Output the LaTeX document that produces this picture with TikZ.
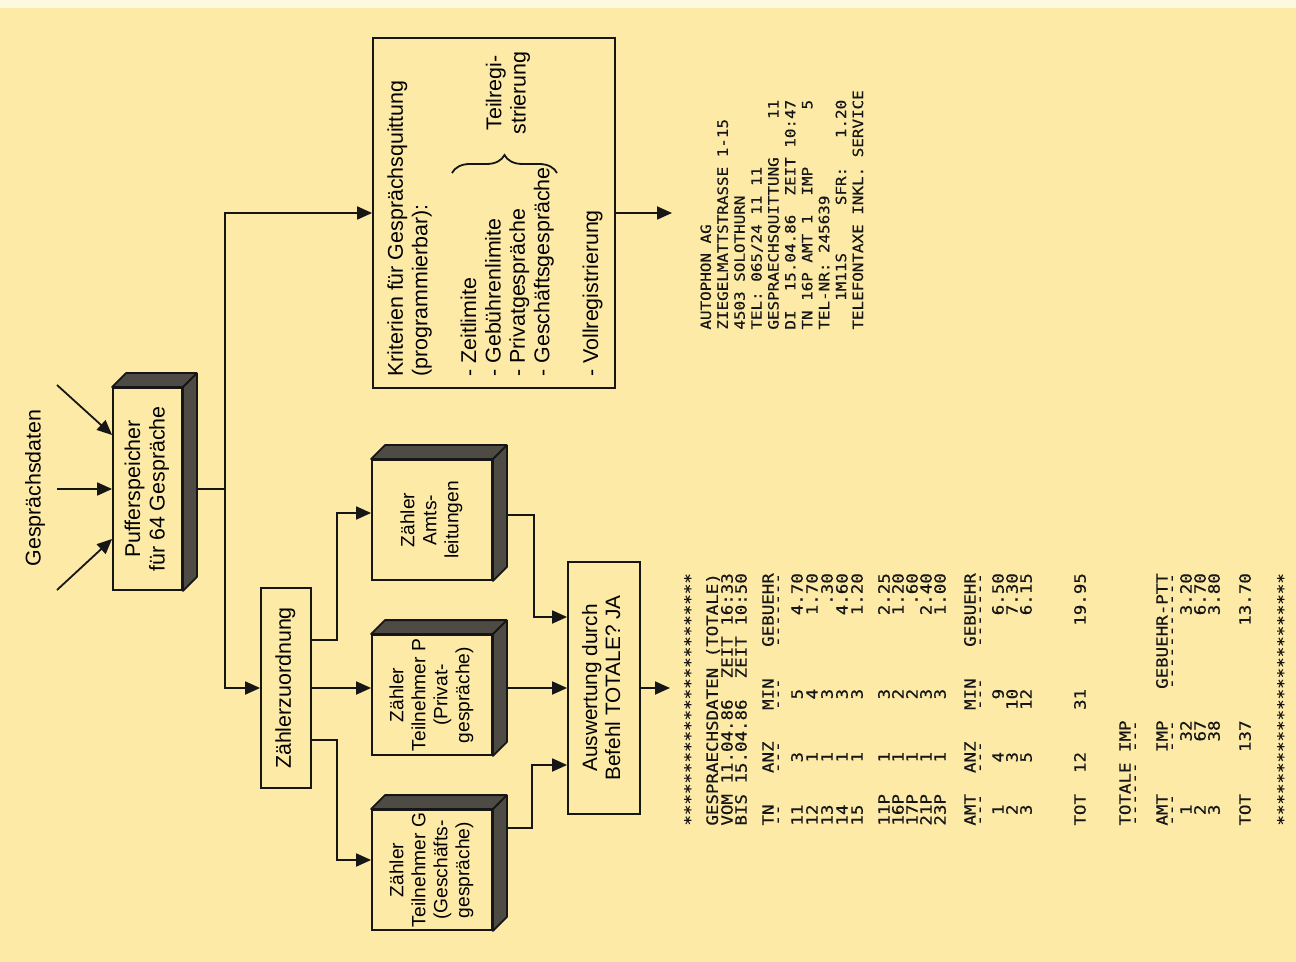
\documentclass[tikz,border=0pt]{standalone}
\usepackage{fontspec}
\setmainfont{Liberation Sans}
\newfontfamily\prtfont[FakeStretch=1.12,FakeBold=0.4]{DejaVu Sans Mono}
\usepackage{graphicx}
\usetikzlibrary{arrows.meta,positioning,calc,decorations.pathreplacing}

\definecolor{paper}{RGB}{252,234,166}
\definecolor{ink}{RGB}{22,22,22}
\definecolor{shade}{RGB}{78,74,68}

\newcommand{\vt}[1]{\rotatebox{90}{\begin{tabular}{@{}c@{}}#1\end{tabular}}}
\newcommand{\dd}[1]{\foreach \k in {1,...,#1}{-\kern0pt}}
\newcommand{\solid}[1]{%
  \filldraw[depth] (#1.north west) -- ++(7pt,7pt)
    -- ([shift={(7pt,7pt)}]#1.north east) -- ([shift={(7pt,7pt)}]#1.south east)
    -- (#1.south east) -- (#1.north east) -- cycle;
  \draw[depth] (#1.north east) -- ++(7pt,7pt);}

\begin{document}
\begin{tikzpicture}[x=0.5pt, y=-0.5pt,
  box/.style={draw=ink, line width=0.9pt, inner sep=0pt, font=\fontsize{10.7}{12.3}\selectfont},
  cbox/.style={box, minimum width=60pt, minimum height=60pt, font=\fontsize{9.6}{11}\selectfont},
  depth/.style={fill=shade, draw=ink, line width=0.9pt, line join=round},
  arr/.style={draw=ink, -{Triangle[length=7.5pt,width=6.5pt]}, line width=0.9pt},
  line/.style={draw=ink, line width=0.9pt},
  prt/.style={rotate=90, inner sep=0pt, text=ink, font=\prtfont\fontsize{7.8}{10}\selectfont\frenchspacing}]

  % paper
  \fill[paper] (0,0) rectangle (1296,962);
  \fill[paper!35!white] (0,0) rectangle (1296,8);
  \useasboundingbox (0,0) rectangle (1296,962);

  % Define nodes
  \node[rotate=90, font=\fontsize{10.7}{12.3}\selectfont] (daten) at (35,488) {Gesprächsdaten};
  \node[box, minimum width=34.5pt, minimum height=101pt] (puffer) at (147.5,489)
    {\vt{Pufferspeicher\\für 64 Gespräche}};
  \node[box, minimum width=25pt, minimum height=100pt] (zuord) at (286,688) {\vt{Zählerzuordnung}};
  \node[cbox] (amts) at (432,520) {\vt{Zähler\\Amts-\\leitungen}};
  \node[cbox] (privat) at (432,695) {\vt{Zähler\\Teilnehmer P\\(Privat-\\gespräche)}};
  \node[cbox] (gesch) at (432,870) {\vt{Zähler\\Teilnehmer G\\(Geschäfts-\\gespräche)}};
  \node[box, minimum width=36pt, minimum height=126pt, font=\fontsize{10.4}{11.6}\selectfont] (auswert) at (604,688)
    {\vt{Auswertung durch\\Befehl TOTALE? JA}};
  \node[box, minimum width=121pt, minimum height=175pt] (kriterien) at (494,213) {};

  \solid{puffer}
  \solid{amts}
  \solid{privat}
  \solid{gesch}

  % Kriterien
  \node[rotate=90, anchor=north west, align=left, inner sep=0pt, font=\fontsize{10.7}{12.2}\selectfont]
    (kritxt) at (387,377) {Kriterien für Gesprächsquittung\\(programmierbar):\\[12.2pt]
    - Zeitlimite\\- Gebührenlimite\\- Privatgespräche\\- Geschäftsgespräche\\[12.2pt]
    - Vollregistrierung};
  \node[rotate=90, align=center, inner sep=0pt, font=\fontsize{10.7}{12.2}\selectfont]
    (teilreg) at (508,93) {Teilregi-\\strierung};
  \coordinate (brA) at (452,173);
  \coordinate (brB) at (557,173);
  \draw[line, decorate, decoration={brace, amplitude=9pt}] (brA) -- (brB);

  % Draw arrows
  \coordinate (g1) at (57,385);
  \coordinate (g2) at (57,489);
  \coordinate (g3) at (57,590);
  \draw[arr] (g1) -- ([yshift=27pt]puffer.west);
  \draw[arr] (g2) -- (puffer.west);
  \draw[arr] (g3) -- ([yshift=-25pt]puffer.west);

  \coordinate (split) at (225,489);
  \draw[line] ([xshift=7pt]puffer.east) -- (split);
  \draw[arr] (split) |- (kriterien.west);
  \draw[arr] (split) |- (zuord.west);

  \draw[arr] ([yshift=24pt]zuord.east) -- ++(12.5pt,0) |- ([yshift=3.5pt]amts.west);
  \draw[arr] (zuord.east) -- (privat.west |- zuord.east);
  \draw[arr] ([yshift=-26pt]zuord.east) -- ++(12.5pt,0) |- ([yshift=5pt]gesch.west);

  \draw[arr] ([xshift=7pt,yshift=2.5pt]amts.east) -- ++(13.5pt,0) |- ([yshift=35.5pt]auswert.west);
  \draw[arr] ([xshift=7pt,yshift=3.5pt]privat.east) -- (auswert.west);
  \draw[arr] ([xshift=7pt,yshift=21pt]gesch.east) -- ++(12.5pt,0) |- ([yshift=-38.5pt]auswert.west);

  \coordinate (outL) at (670,688);
  \coordinate (outR) at (672,213);
  \draw[arr] (auswert.east) -- (outL);
  \draw[arr] (kriterien.east) -- (outR);

  % Gespraechsquittung
  \node[prt, anchor=north west, align=left, font=\prtfont\fontsize{7.1}{8.45}\selectfont\frenchspacing]
    (quittung) at (700,330) {AUTOPHON~AG\\ZIEGELMATTSTRASSE~1-15\\4503~SOLOTHURN\\TEL:~065/24~11~11\\
    GESPRAECHSQUITTUNG~~~~11\\DI~~15.04.86~~ZEIT~10:47\\TN~16P~AMT~1~~IMP~~~~~~5\\TEL-NR:~245639\\
    \phantom{000}1M11S~~~~~SFR:~~~1.20\\TELEFONTAXE~INKL.~SERVICE};

  % Gespraechsdaten (Totale)
  \foreach \x/\t [count=\i] in {
    690/{************************},
    713/{GESPRAECHSDATEN~(TOTALE)},
    727/{VOM~11.04.86~~ZEIT~16:33},
    741/{BIS~15.04.86~~ZEIT~10:50},
    768/{TN~~~ANZ~~~MIN~~~GEBUEHR},
    780/{\dd{2}~~~\dd{3}~~~\dd{3}~~~\dd{7}},
    797/{11~~~~3~~~~~5~~~~~~~4.70},
    812/{12~~~~1~~~~~4~~~~~~~1.70},
    827/{13~~~~1~~~~~3~~~~~~~~.30},
    842/{14~~~~1~~~~~3~~~~~~~4.60},
    857/{15~~~~1~~~~~3~~~~~~~1.20},
    884/{11P~~~1~~~~~3~~~~~~~2.25},
    898/{16P~~~1~~~~~2~~~~~~~1.20},
    912/{17P~~~1~~~~~2~~~~~~~~.60},
    926/{21P~~~1~~~~~3~~~~~~~2.40},
    940/{23P~~~1~~~~~3~~~~~~~1.00},
    970/{AMT~~ANZ~~~MIN~~~GEBUEHR},
    982/{\dd{3}~~\dd{3}~~~\dd{3}~~~\dd{7}},
    998/{~1~~~~4~~~~~9~~~~~~~6.50},
    1012/{~2~~~~3~~~~10~~~~~~~7.30},
    1026/{~3~~~~5~~~~12~~~~~~~6.15},
    1080/{TOT~~12~~~~31~~~~~~19.95},
    1125/{TOTALE~IMP},
    1137/{\dd{6}~\dd{3}},
    1162/{AMT~~~~IMP~~~GEBUEHR-PTT},
    1174/{\dd{3}~~~~\dd{3}~~~\dd{11}},
    1186/{~1~~~~~~32~~~~~~~~~~3.20},
    1200/{~2~~~~~~67~~~~~~~~~~6.70},
    1214/{~3~~~~~~38~~~~~~~~~~3.80},
    1245/{TOT~~~~137~~~~~~~~~13.70},
    1283/{************************}}
    \node[prt, anchor=west] (tot\i) at (\x,826) {\t};
\end{tikzpicture}
\end{document}
